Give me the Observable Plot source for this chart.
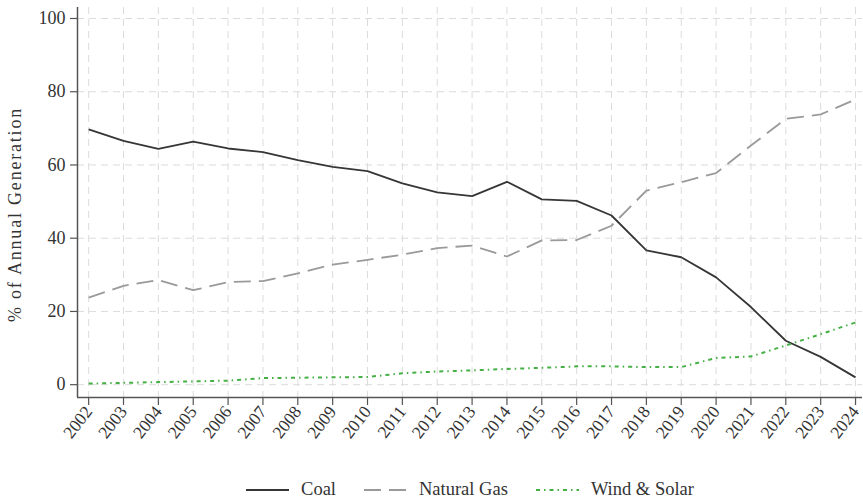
<!DOCTYPE html>
<html>
<head>
<meta charset="utf-8">
<script src="https://cdn.jsdelivr.net/npm/d3@7"></script>
<script src="https://cdn.jsdelivr.net/npm/@observablehq/plot@0.6"></script>
<style>
  html, body { margin: 0; padding: 0; background: #fff; }
  #chart { width: 863px; }
  .legend { display: flex; justify-content: center; align-items: center; margin-left: 77px; width: 786px; padding-top: 17px;
    font-family: "Liberation Serif", serif; font-size: 18.5px; color: #333; }
  .legend .item { display: flex; align-items: center; margin: 0 14px; }
  .legend svg { margin-right: 12px; }
</style>
</head>
<body>
<div id="chart"></div>
<script>
const years = [2002, 2003, 2004, 2005, 2006, 2007, 2008, 2009, 2010, 2011, 2012, 2013, 2014, 2015, 2016, 2017, 2018, 2019, 2020, 2021, 2022, 2023, 2024];
const coal = [69.7, 66.6, 64.4, 66.4, 64.5, 63.5, 61.3, 59.5, 58.3, 55.0, 52.5, 51.5, 55.4, 50.6, 50.2, 46.2, 36.7, 34.8, 29.3, 21.2, 12.0, 7.6, 2.0];
const naturalGas = [23.8, 27.0, 28.6, 25.8, 28.0, 28.3, 30.4, 32.8, 34.1, 35.5, 37.3, 38.0, 35.0, 39.4, 39.5, 43.4, 53.0, 55.3, 57.8, 65.3, 72.6, 73.8, 77.9];
const windSolar = [0.3, 0.5, 0.7, 0.9, 1.1, 1.8, 1.9, 2.0, 2.1, 3.1, 3.6, 3.9, 4.3, 4.6, 5.0, 5.0, 4.8, 4.8, 7.3, 7.7, 10.7, 13.8, 17.0];
const yTicks = [0, 20, 40, 60, 80, 100];
const seriesNames = ["Coal", "Natural Gas", "Wind & Solar"];
const yLabel = "% of Annual Generation";

const xDomain = [2001.68, 2024.2];
const yDomain = [-3.5, 103];

const styles = {
  "Coal": {stroke: "#363636", strokeWidth: 1.8, dash: null},
  "Natural Gas": {stroke: "#9a9a9a", strokeWidth: 1.8, dash: "17,8"},
  "Wind & Solar": {stroke: "#45b045", strokeWidth: 2, dash: "4,4,1.5,4"}
};

const seriesValues = [coal, naturalGas, windSolar];
const rows = seriesNames.map((name, i) => years.map((y, j) => ({series: name, year: y, value: seriesValues[i][j]})));

const gridStyle = {stroke: "#dcdcdc", strokeOpacity: 1, strokeWidth: 1, strokeDasharray: "7,5"};

const chart = Plot.plot({
  width: 863,
  height: 462,
  marginLeft: 77,
  marginRight: 1,
  marginTop: 7,
  marginBottom: 65,
  style: {fontFamily: "Liberation Serif, serif", fontSize: "18px", color: "#333", background: "#fff"},
  x: {type: "linear", domain: xDomain},
  y: {type: "linear", domain: yDomain},
  marks: [
    Plot.gridX(years, gridStyle),
    Plot.gridY(yTicks, gridStyle),
    ...rows.map((data, i) => {
      const s = styles[seriesNames[i]];
      return Plot.line(data, {x: "year", y: "value", stroke: s.stroke, strokeWidth: s.strokeWidth,
        strokeDasharray: s.dash || undefined, strokeLinejoin: "round", strokeLinecap: "butt"});
    }),
    Plot.ruleX([xDomain[0]], {stroke: "#555", strokeWidth: 1.5}),
    Plot.ruleY([yDomain[0]], {stroke: "#555", strokeWidth: 1.5}),
    Plot.axisY(yTicks, {tickSize: 7, tickPadding: 5, stroke: "#555", strokeWidth: 1.2, fontSize: 18, fill: "#333", label: null}),
    Plot.axisX(years, {tickSize: 8, tickPadding: 3, tickRotate: -52, tickFormat: d => String(d), stroke: "#555", strokeWidth: 1.2, fontSize: 17.5, fill: "#333", label: null}),
    Plot.text([yLabel], {frameAnchor: "left", rotate: -90, textAnchor: "middle", dx: -62, dy: 12, fontSize: 18, fill: "#333", text: d => d})
  ]
});

d3.select(chart).selectAll("text").filter(function() { return this.textContent === yLabel; })
  .style("letter-spacing", "1.8px");

document.getElementById("chart").appendChild(chart);

// legend
const legend = d3.select("#chart").append("div").attr("class", "legend");
seriesNames.forEach(name => {
  const s = styles[name];
  const item = legend.append("div").attr("class", "item");
  const sw = item.append("svg").attr("width", 43).attr("height", 12);
  sw.append("line").attr("x1", 0).attr("x2", 43).attr("y1", 6).attr("y2", 6)
    .attr("stroke", s.stroke).attr("stroke-width", s.strokeWidth)
    .attr("stroke-dasharray", s.dash);
  item.append("span").text(name);
});
</script>
</body>
</html>
